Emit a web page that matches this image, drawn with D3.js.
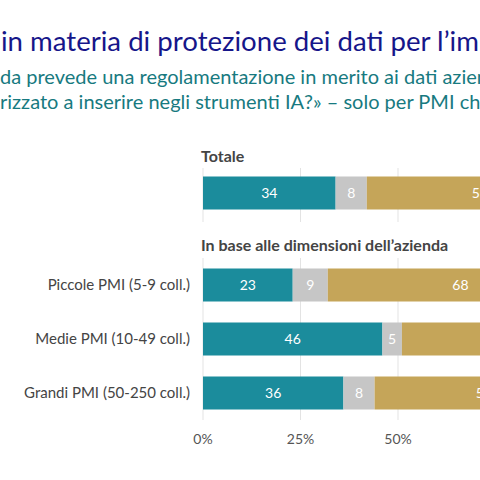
<!DOCTYPE html><html><head><meta charset="utf-8"><script src="https://cdn.jsdelivr.net/npm/d3@7"></script>
<style>body{margin:0;background:#fff}svg{font-family:Lato,sans-serif}</style></head><body><svg width="480" height="480"></svg>
<script>
const categories=["Totale","Piccole PMI (5-9 coll.)","Medie PMI (10-49 coll.)","Grandi PMI (50-250 coll.)"];
const yesVals=[34,23,46,36];
const dkVals=[8,9,5,8];
const noVals=[58,68,49,56];
const ticks=[0,25,50,75,100];
const colors=["#1b8c9c","#c6c6c6","#c5a559"];
const svg=d3.select("svg");
svg.append("text").attr("x",1).attr("y",51).attr("fill","#16168a").attr("font-size",27.6).text("in materia di protezione dei dati per l’impiego dell’IA");
svg.append("text").attr("x",0).attr("y",84).attr("fill","#177a80").attr("font-size",20).text("da prevede una regolamentazione in merito ai dati aziendali che il personale è");
svg.append("text").attr("x",0).attr("y",109).attr("fill","#177a80").attr("font-size",20).text("rizzato a inserire negli strumenti IA?» – solo per PMI che utilizzano l’IA");
const x=d3.scaleLinear().domain([0,100]).range([203,593]);
const ypos=[193,285,339,393];
const bh=33;
const panels=[[168,222],[258,420]];
panels.forEach(p=>ticks.forEach(t=>svg.append("line").attr("x1",x(t)).attr("x2",x(t)).attr("y1",p[0]).attr("y2",p[1]).attr("stroke","#e3e3e3")));
svg.append("text").attr("x",201).attr("y",162).attr("font-weight","bold").attr("font-size",16).attr("fill","#444").text("Totale");
svg.append("text").attr("x",201).attr("y",251).attr("font-weight","bold").attr("font-size",16).attr("fill","#444").text("In base alle dimensioni dell’azienda");
categories.forEach((c,i)=>{
  const vals=[yesVals[i],dkVals[i],noVals[i]];let acc=0;
  vals.forEach((v,j)=>{
    svg.append("rect").attr("x",x(acc)).attr("width",x(acc+v)-x(acc)).attr("y",ypos[i]-bh/2).attr("height",bh).attr("fill",colors[j]);
    svg.append("text").attr("x",(x(acc)+x(acc+v))/2).attr("y",ypos[i]+5).attr("text-anchor","middle").attr("fill","#fff").attr("font-size",14).text(v);
    acc+=v;
  });
  if(i>0) svg.append("text").attr("x",190).attr("y",ypos[i]+5).attr("text-anchor","end").attr("fill","#444").attr("font-size",15).text(c);
});
ticks.forEach(t=>svg.append("text").attr("x",x(t)).attr("y",444).attr("text-anchor","middle").attr("fill","#555").attr("font-size",14).text(t+"%"));
</script></body></html>
